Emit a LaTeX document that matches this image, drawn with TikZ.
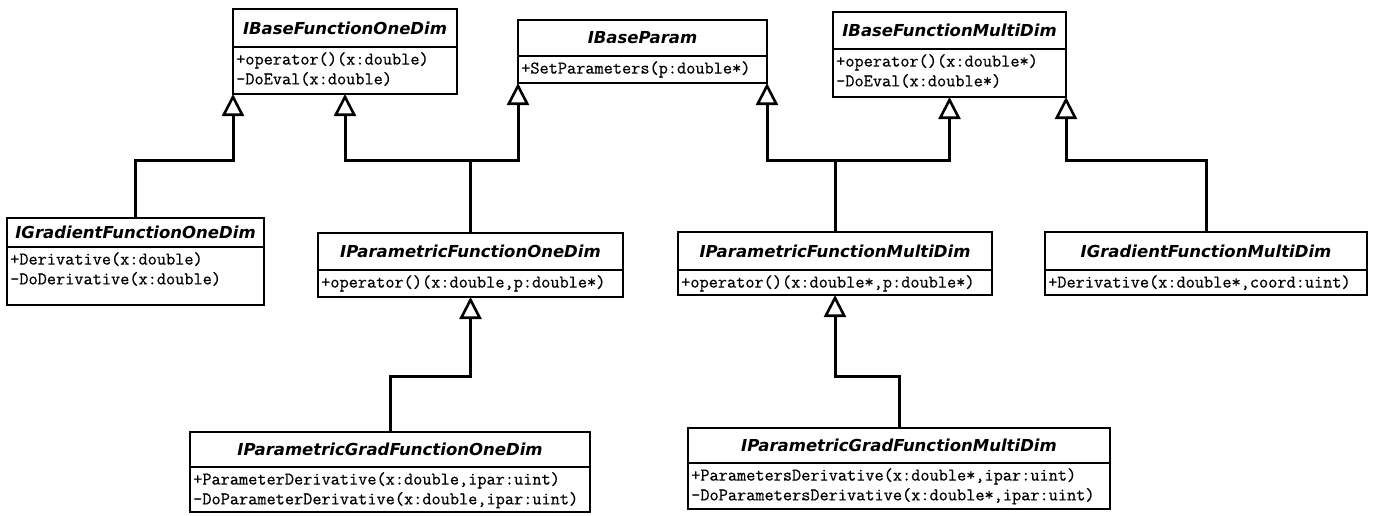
\documentclass[tikz,border=0pt]{standalone}
\usepackage{fontspec}
\usetikzlibrary{arrows.meta}
\newfontfamily\titlefont{DejaVu Sans}
\newfontfamily\memberfont[FakeBold=0.6]{Latin Modern Mono}
\tikzset{
 classbox/.style={draw, line width=2.7pt, fill=white, inner sep=0pt, outer sep=0pt, anchor=north west},
 classtitle/.style={font=\titlefont\bfseries\itshape\fontsize{16.5}{20}\selectfont, inner sep=0pt},
 members/.style={font=\memberfont\fontsize{17.8}{19.8}\selectfont, align=left, inner sep=0pt, anchor=north west},
 divider/.style={line width=2pt},
 inh/.style={line width=3pt, -{Triangle[open, length=22pt, width=22pt, line width=2.6pt]}},
}
\newcommand\umlclass[8]{%
 \node[classbox, minimum width={(#4-#2)*1pt}, minimum height={(#6-#3)*1pt}] (#1) at (#2,#3) {};
 \draw[divider] (#1.west |- #2,#5) -- (#1.east |- #2,#5);
 \node[classtitle] (#1-title) at ({(#2+#4)/2},{(#3+#5)/2}) {#7};
 \node[members] (#1-ops) at ({#2+3},{#5+5}) {#8};
}
\begin{document}
\begin{tikzpicture}[x=1pt,y=-1pt]
\fill[white] (0,0) rectangle (1375,515);
\useasboundingbox (0,0) rectangle (1375,515);
\umlclass{BFO}{233}{9}{457}{47}{94}{IBaseFunctionOneDim}{+operator()(x:double)\\-DoEval(x:double)}
\umlclass{BP}{518}{20}{767}{56}{83}{IBaseParam}{+SetParameters(p:double*)}
\umlclass{BFM}{833}{12}{1066}{49}{97}{IBaseFunctionMultiDim}{+operator()(x:double*)\\-DoEval(x:double*)}
\umlclass{GFO}{7}{218}{264}{247}{305}{IGradientFunctionOneDim}{+Derivative(x:double)\\-DoDerivative(x:double)}
\umlclass{PFO}{318}{233}{623}{270}{297}{IParametricFunctionOneDim}{+operator()(x:double,p:double*)}
\umlclass{PFM}{678}{232}{992}{270}{295}{IParametricFunctionMultiDim}{+operator()(x:double*,p:double*)}
\umlclass{GFM}{1045}{232}{1367}{270}{295}{IGradientFunctionMultiDim}{+Derivative(x:double*,coord:uint)}
\umlclass{PGO}{190}{432}{590}{467}{512}{IParametricGradFunctionOneDim}{+ParameterDerivative(x:double,ipar:uint)\\-DoParameterDerivative(x:double,ipar:uint)}
\umlclass{PGM}{688}{428}{1110}{463}{509}{IParametricGradFunctionMultiDim}{+ParametersDerivative(x:double*,ipar:uint)\\-DoParametersDerivative(x:double*,ipar:uint)}
\draw[inh] (GFO.north) -- (GFO.north |- 0,160) -| (BFO.south west);
\draw[inh] (PFO.north) -- (PFO.north |- 0,160) -| (BFO.south);
\draw[inh] (PFO.north) -- (PFO.north |- 0,160) -| (BP.south west);
\draw[inh] (PFM.north) -- (PFM.north |- 0,160) -| (BP.south east);
\draw[inh] (PFM.north) -- (PFM.north |- 0,160) -| (BFM.south);
\draw[inh] (GFM.north) -- (GFM.north |- 0,160) -| (BFM.south east);
\draw[inh] (PGO.north) -- (PGO.north |- 0,376) -| (PFO.south);
\draw[inh] (PGM.north) -- (PGM.north |- 0,376) -| (PFM.south);
\end{tikzpicture}
\end{document}
